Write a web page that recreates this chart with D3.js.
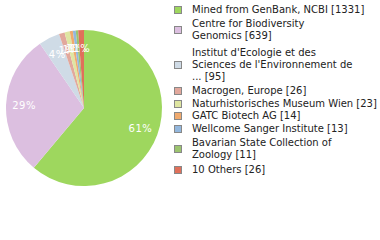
<!DOCTYPE html>
<html>
<head>
<meta charset="utf-8">
<script src="https://cdnjs.cloudflare.com/ajax/libs/d3/7.8.5/d3.min.js"></script>
<style>
  body { margin: 0; background: #fff; }
  #chart { width: 380px; height: 240px; }
  text { font-family: "DejaVu Sans", sans-serif; }
</style>
</head>
<body>
<div id="chart"></div>
<script>
// source institutions (legend lines) and record counts
const labels = [
  ['Mined from GenBank, NCBI [1331]'],
  ['Centre for Biodiversity', 'Genomics [639]'],
  ['Institut d\'Ecologie et des', 'Sciences de l\'Environnement de', '... [95]'],
  ['Macrogen, Europe [26]'],
  ['Naturhistorisches Museum Wien [23]'],
  ['GATC Biotech AG [14]'],
  ['Wellcome Sanger Institute [13]'],
  ['Bavarian State Collection of', 'Zoology [11]'],
  ['10 Others [26]']
];
const counts = [1331, 639, 95, 26, 23, 14, 13, 11, 26];
const colors = ['#9ed75e', '#dcbfe0', '#cfdbe6', '#e2a89c', '#dfe6a2',
                '#f0aa6e', '#93b7dd', '#9cc46f', '#e0705a'];

const svg = d3.select('#chart').append('svg')
    .attr('width', 380)
    .attr('height', 240);

const radius = 78;
const total = d3.sum(counts);

const pie = d3.pie().sort(null).value(d => d);
const arc = d3.arc().innerRadius(0).outerRadius(radius);
const labelArc = d3.arc().innerRadius(60).outerRadius(60);

const g = svg.append('g').attr('transform', 'translate(84,108)');

const slices = g.selectAll('g.slice')
    .data(pie(counts))
    .enter().append('g')
    .attr('class', 'slice');

slices.append('path')
    .attr('d', arc)
    .attr('fill', (d, i) => colors[i]);

slices.append('text')
    .attr('transform', d => 'translate(' + labelArc.centroid(d) + ')')
    .attr('text-anchor', 'middle')
    .attr('dy', '0.35em')
    .attr('fill', '#fff')
    .style('font-size', '10px')
    .style('letter-spacing', '0.5px')
    .text(d => Math.round(d.value / total * 100) + '%');

// legend
const lineH = 12;
const legend = svg.append('g').attr('class', 'legend');
let y = 9;
labels.forEach((lines, i) => {
  const multi = lines.length > 1;
  if (multi && i > 0) y += 2;
  const h = (lines.length - 1) * lineH;
  legend.append('rect')
      .attr('x', 174.5)
      .attr('y', Math.round(y + h / 2 - 3.5) + 0.5)
      .attr('width', 7)
      .attr('height', 7)
      .attr('fill', colors[i])
      .attr('stroke', '#888')
      .attr('stroke-width', 1);
  const t = legend.append('text')
      .attr('x', 192)
      .attr('y', y)
      .style('font-size', '10px')
      .attr('fill', '#222');
  lines.forEach((l, j) => {
    t.append('tspan')
        .attr('x', 192)
        .attr('dy', j === 0 ? '0.35em' : lineH)
        .text(l);
  });
  y += h + 12.5 + (multi ? 2 : 0);
});
</script>
</body>
</html>
